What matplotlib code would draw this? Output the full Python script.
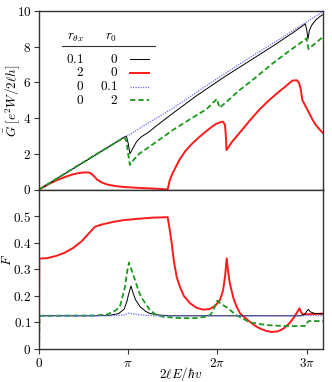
import numpy as np
import matplotlib
matplotlib.use("Agg")
import matplotlib.pyplot as plt

plt.rcParams['mathtext.fontset'] = 'cm'
plt.rcParams['font.family'] = ['DejaVu Serif']

# ---------------- top panel: G ----------------
black_G_x = [0, 1, 2, 3.0, 3.08, 3.14, 3.2, 3.3, 3.44, 3.6, 3.85, 4.2, 4.73, 5.5, 6.49, 7.43, 8.3, 9.0, 9.38, 9.43, 9.47, 9.52, 9.6, 9.75, 9.9, 10]
black_G_y = [0, 0.97, 1.94, 2.92, 2.97, 2.6, 2.0, 2.3, 2.69, 2.95, 3.2, 3.65, 4.29, 5.2, 6.27, 7.22, 8.1, 8.85, 9.28, 8.9, 8.43, 8.9, 9.2, 9.5, 9.7, 9.8]

red_G_x = [0, 0.2, 0.4, 0.6, 0.8, 1.0, 1.2, 1.4, 1.6, 1.75, 1.85, 1.95, 2.05, 2.2, 2.4, 2.7, 3.0, 3.4, 3.8, 4.2, 4.53,
           4.6, 4.7, 4.94, 5.15, 5.4, 5.65, 5.87, 6.05, 6.23, 6.4, 6.48, 6.55, 6.58, 6.6, 6.8, 7.05, 7.4, 7.75, 8.1, 8.45, 8.7, 8.92, 9.08, 9.16, 9.22, 9.27, 9.4, 9.51, 9.62, 9.74, 9.87, 10]
red_G_y = [0, 0.18, 0.35, 0.5, 0.63, 0.75, 0.85, 0.92, 0.96, 0.95, 0.88, 0.72, 0.55, 0.4, 0.28, 0.19, 0.14, 0.1, 0.07, 0.04, 0.0,
           0.5, 0.9, 1.65, 2.15, 2.58, 2.95, 3.24, 3.47, 3.67, 3.78, 3.8, 3.61, 3.0, 2.21, 2.68, 3.15, 3.82, 4.46, 5.0, 5.48, 5.8, 6.1, 6.12, 5.96, 5.6, 5.02, 4.62, 4.29, 3.94, 3.63, 3.38, 3.16]

blue_G_x = [0, 1, 2, 3.0, 3.14, 3.2, 3.55, 4.73, 6.0, 7.43, 8.5, 9.38, 10]
blue_G_y = [0, 0.98, 1.96, 2.95, 3.05, 3.07, 3.44, 4.57, 5.93, 7.4, 8.45, 9.35, 9.97]

green_G_x = [0, 1, 2, 3.0, 3.08, 3.14, 3.2, 3.35, 3.55, 3.9, 4.73, 5.3, 5.9, 6.2, 6.27, 6.31, 6.36, 6.7, 7.07, 7.43, 8.24, 8.8, 9.36, 9.42, 9.46, 9.49, 10]
green_G_y = [0, 0.98, 1.96, 2.92, 2.7, 2.0, 1.37, 1.7, 2.03, 2.41, 3.35, 3.92, 4.5, 4.98, 5.08, 4.8, 4.58, 5.05, 5.58, 6.02, 7.08, 7.75, 8.39, 8.47, 8.1, 7.87, 8.55]

# ---------------- bottom panel: F ----------------
red_F_x = [0, 0.01, 0.3, 0.6, 0.9, 1.2, 1.5, 1.8, 1.97, 2.2, 2.6, 3.0, 3.5, 4.0, 4.53, 4.6, 4.67, 4.75, 4.85, 4.96, 5.1, 5.32, 5.55, 5.78, 6.0, 6.2, 6.37, 6.48, 6.55, 6.61,
           6.66, 6.72, 6.85, 6.96, 7.08, 7.25, 7.43, 7.6, 7.78, 8.0, 8.2, 8.4, 8.6, 8.8, 8.95, 9.1, 9.17, 9.22, 9.28, 9.5, 10]
red_F_y = [0, 0.34, 0.342, 0.35, 0.362, 0.38, 0.405, 0.44, 0.46, 0.468, 0.478, 0.485, 0.49, 0.494, 0.496, 0.45, 0.4, 0.33, 0.27, 0.234, 0.2, 0.172, 0.155, 0.148, 0.15, 0.162, 0.184, 0.22, 0.272, 0.341,
           0.29, 0.247, 0.19, 0.159, 0.134, 0.118, 0.102, 0.088, 0.077, 0.068, 0.064, 0.066, 0.076, 0.095, 0.115, 0.14, 0.153, 0.14, 0.131, 0.131, 0.133]

black_F_x = [0, 0.01, 2.0, 2.5, 2.8, 3.0, 3.1, 3.14, 3.18, 3.24, 3.3, 3.4, 3.56, 3.75, 3.9, 4.2, 4.6, 9.2, 9.35, 9.45, 9.49, 9.55, 9.7, 10]
black_F_y = [0, 0.125, 0.125, 0.127, 0.133, 0.15, 0.18, 0.2, 0.215, 0.237, 0.215, 0.185, 0.159, 0.142, 0.134, 0.128, 0.125, 0.125, 0.13, 0.145, 0.149, 0.14, 0.134, 0.132]

blue_F_x = [0, 0.01, 2.5, 3.0, 3.14, 3.3, 3.7, 4.2, 9.3, 9.45, 9.6, 10]
blue_F_y = [0, 0.125, 0.125, 0.128, 0.135, 0.132, 0.127, 0.125, 0.125, 0.127, 0.126, 0.125]

green_F_x = [0, 0.02, 2.0, 2.4, 2.7, 2.85, 3.03, 3.1, 3.17, 3.25, 3.38, 3.5, 3.6, 3.9, 4.1, 4.38, 5.0, 5.5, 5.9, 6.05, 6.15, 6.22, 6.28, 6.4, 6.67, 6.9, 7.08, 7.43, 8.0, 8.5, 9.0, 9.4, 9.45, 9.5, 10]
green_F_y = [0, 0.125, 0.126, 0.13, 0.145, 0.16, 0.234, 0.29, 0.325, 0.3, 0.26, 0.22, 0.195, 0.147, 0.13, 0.121, 0.116, 0.116, 0.122, 0.13, 0.15, 0.17, 0.182, 0.17, 0.153, 0.13, 0.12, 0.1, 0.09, 0.087, 0.086, 0.087, 0.1, 0.105, 0.105]

# legend table
legend_rtx = ["0.1", "2", "0", "0"]
legend_r0 = ["0", "0", "0.1", "2"]

G_yticks = [0, 2, 4, 6, 8, 10]
F_yticks = [0, 0.1, 0.2, 0.3, 0.4, 0.5]
x_ticks = [0, np.pi, 2 * np.pi, 3 * np.pi]
x_ticklabels = [r"$0$", r"$\pi$", r"$2\pi$", r"$3\pi$"]

W, H = 332, 382
fig = plt.figure(figsize=(W / 100, H / 100), dpi=100)
L, R = 39 / W, 323 / W
ax1 = fig.add_axes([L, 1 - 189.5 / H, R - L, (189.5 - 11) / H])
ax2 = fig.add_axes([L, 1 - 349 / H, R - L, (349 - 189.5) / H])

styles = dict(
    black=dict(color='black', lw=0.7, ls='-'),
    red=dict(color='#ff1a1a', lw=1.4, ls='-'),
    blue=dict(color='#6a6aff', lw=0.9, ls=(0, (1, 1))),
    green=dict(color='#1a9a1a', lw=1.3, ls=(0, (3, 1.6))),
)

ax1.plot(red_G_x, red_G_y, **styles['red'])
ax1.plot(blue_G_x, blue_G_y, **styles['blue'])
ax1.plot(black_G_x, black_G_y, **styles['black'])
ax1.plot(green_G_x, green_G_y, **styles['green'])

ax2.plot(red_F_x, red_F_y, **styles['red'])
ax2.plot(black_F_x, black_F_y, **styles['black'])
ax2.plot(green_F_x, green_F_y, **styles['green'])
ax2.plot(blue_F_x, blue_F_y, **styles['blue'])

fs = 9.5
for ax in (ax1, ax2):
    ax.set_xlim(0, 10)
    for s in ax.spines.values():
        s.set_color('#333333')
        s.set_linewidth(1.0)
    ax.tick_params(direction='out', length=3.5, width=0.8, labelsize=fs, color='#333333',
                   top=False, right=False, pad=2)

ax1.set_ylim(0, 10)
ax1.set_yticks(G_yticks)
ax1.set_yticklabels([rf"${v}$" for v in G_yticks])
ax1.set_xticks(x_ticks)
ax1.tick_params(axis='x', length=0, labelbottom=False)
ax1.set_ylabel(r"$\bar{G}\;[e^2W/2\ell h]$", fontsize=fs, va='center')
ax1.yaxis.set_label_coords(-0.093, 0.5)

ax2.set_ylim(0, 0.6)
ax2.set_yticks(F_yticks)
ax2.set_yticklabels([rf"${v:g}$" for v in F_yticks])
ax2.set_xticks(x_ticks)
ax2.set_xticklabels(x_ticklabels)
ax2.set_ylabel(r"$\bar{F}$", fontsize=fs, va='center')
ax2.yaxis.set_label_coords(-0.11, 0.555)
ax2.set_xlabel(r"$2\ell E/\hbar v$", fontsize=fs)
ax2.xaxis.set_label_coords(0.5, -0.10)

# legend table in top axes (axes-fraction coordinates)
tr = ax1.transAxes
ax1.text(0.127, 0.85, r"$r_{\theta x}$", transform=tr, ha='center', va='center', fontsize=fs)
ax1.text(0.254, 0.85, r"$r_0$", transform=tr, ha='center', va='center', fontsize=fs)
ax1.plot([0.08, 0.408], [0.804, 0.804], transform=tr, color='#333333', lw=0.8)
row_y = [0.731, 0.654, 0.576, 0.501]
keys = ['black', 'red', 'blue', 'green']
for yy, a, b, k in zip(row_y, legend_rtx, legend_r0, keys):
    ax1.text(0.158, yy, rf"${a}$", transform=tr, ha='right', va='center', fontsize=fs)
    ax1.text(0.278, yy, rf"${b}$", transform=tr, ha='right', va='center', fontsize=fs)
    ax1.plot([0.32, 0.387], [yy, yy], transform=tr, **styles[k])

fig.savefig("out.png", dpi=100)
